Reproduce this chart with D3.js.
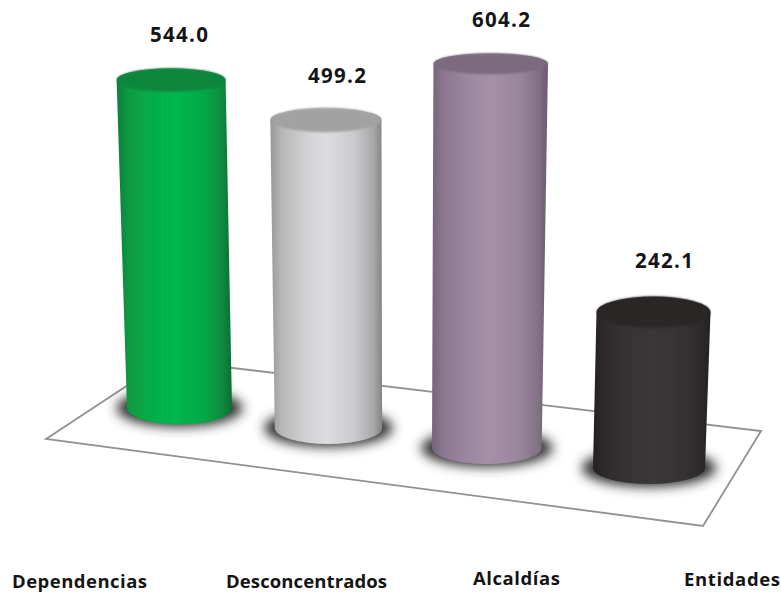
<!DOCTYPE html>
<meta charset="UTF-8">
<head>
<title>Dependencias</title>
<style>
html, body { margin: 0; background: #fff; }
svg { display: block; }
text { font-family: "Open Sans", sans-serif; font-weight: 700; fill: #151515; }
</style>
</head>
<body>
<script src="https://d3js.org/d3.v7.min.js"></script>
<script>

var categories = ["Dependencias", "Desconcentrados", "Alcaldías", "Entidades"];
var values = [544.0, 499.2, 604.2, 242.1];
var valueLabels = ["544.0", "499.2", "604.2", "242.1"];

// left edge, middle, right edge, lid
var sideColors = [
  ["#0c7f3b", "#05b84c", "#0a6c33", "#0b863d"],
  ["#979797", "#dddde0", "#858585", "#a2a2a2"],
  ["#75647a", "#a590a8", "#6a5a6d", "#7c6b7e"],
  ["#242122", "#3a3738", "#242122", "#2a2627"]
];

// hand placed labels, as in the original slide
var valueLabelX = [150, 308, 472, 635];
var valueLabelY = [42, 83, 27, 268];
var catLabelX = [12, 226, 473, 684];
var catLabelY = [588, 588, 585, 586];
var catLabelW = [135, 161, 87, 96];

var floorCorners = [[46, 439], [166, 360], [761, 431], [703, 526]];

var width = 781, height = 593;
var index = d3.range(categories.length);

// the floor is drawn in perspective, so bars further right sit lower and closer
var baseX = d3.scalePow().exponent(1.045).domain([0, 3]).range([179.5, 649]);
var baseY = d3.scaleLinear().domain([0, 3]).range([408, 468]);
var baseRx = d3.scaleLinear().domain([0, 3]).range([52.5, 56]);
var pxPerUnit = d3.scaleLinear().domain([0, 1, 2, 3]).range([0.603, 0.617, 0.636, 0.644]);
var topRy = d3.scaleLinear().domain([156, 384]).range([15.5, 10.5]);
var vanishX = 400, lean = 1.16e-4;

var bars = index.map(function(i) {
  var h = values[i] * pxPerUnit(i),
      grow = 1 + lean * h,
      bx = baseX(i), by = baseY(i);
  return {
    i: i, bx: bx, by: by, brx: baseRx(i), bry: 16,
    tx: vanishX + (bx - vanishX) * grow,
    ty: by - h,
    trx: baseRx(i) * grow,
    try_: topRy(h)
  };
});

var svg = d3.select("body").append("svg")
    .attr("width", width)
    .attr("height", height);

var defs = svg.append("defs");

defs.append("filter").attr("id", "shadowBlur")
    .attr("x", "-30%").attr("y", "-80%").attr("width", "160%").attr("height", "260%")
  .append("feGaussianBlur").attr("stdDeviation", 6);

defs.append("filter").attr("id", "soft")
  .append("feGaussianBlur").attr("stdDeviation", 0.6);

defs.append("filter").attr("id", "lidSoft")
    .attr("x", "-10%").attr("y", "-30%").attr("width", "120%").attr("height", "160%")
  .append("feGaussianBlur").attr("stdDeviation", 1.2);

index.forEach(function(i) {
  var g = defs.append("linearGradient").attr("id", "side" + i);
  [[0, 0], [0.1, 0.45], [0.3, 0.8], [0.5, 1], [0.75, 0.8], [0.92, 0.4], [1, 0]].forEach(function(s) {
    var edge = s[0] < 0.5 ? sideColors[i][0] : sideColors[i][2];
    g.append("stop").attr("offset", s[0])
        .attr("stop-color", d3.interpolateRgb(edge, sideColors[i][1])(s[1]));
  });
});

svg.append("path")
    .attr("d", d3.line().curve(d3.curveLinearClosed)(floorCorners))
    .attr("fill", "#fff")
    .attr("stroke", "#919191")
    .attr("stroke-width", 1.8);

svg.selectAll("ellipse.shadow")
    .data(bars)
  .enter().append("ellipse")
    .attr("class", "shadow")
    .attr("cx", function(d) { return d.bx; })
    .attr("cy", function(d) { return d.by; })
    .attr("rx", function(d) { return d.brx * 1.2; })
    .attr("ry", 19)
    .attr("fill", "#333")
    .attr("filter", "url(#shadowBlur)");

var bar = svg.selectAll("g.bar")
    .data(bars)
  .enter().append("g")
    .attr("class", "bar")
    .attr("filter", "url(#soft)");

bar.append("path")
    .attr("fill", function(d) { return "url(#side" + d.i + ")"; })
    .attr("d", function(d) {
      return `M ${d.tx - d.trx} ${d.ty}
              L ${d.bx - d.brx} ${d.by}
              A ${d.brx} ${d.bry} 0 0 0 ${d.bx + d.brx} ${d.by}
              L ${d.tx + d.trx} ${d.ty}
              A ${d.trx} ${d.try_} 0 0 0 ${d.tx - d.trx} ${d.ty} Z`;
    });

bar.append("ellipse")
    .attr("cx", function(d) { return d.tx; })
    .attr("cy", function(d) { return d.ty; })
    .attr("rx", function(d) { return d.trx - 0.5; })
    .attr("ry", function(d) { return d.try_; })
    .attr("fill", function(d) { return sideColors[d.i][3]; })
    .attr("filter", "url(#lidSoft)");

svg.selectAll("text.value")
    .data(index)
  .enter().append("text")
    .attr("class", "value")
    .attr("x", function(i) { return valueLabelX[i]; })
    .attr("y", function(i) { return valueLabelY[i]; })
    .attr("textLength", 58)
    .attr("lengthAdjust", "spacing")
    .style("font-size", "20.5px")
    .text(function(i) { return valueLabels[i]; });

svg.selectAll("text.cat")
    .data(index)
  .enter().append("text")
    .attr("class", "cat")
    .attr("x", function(i) { return catLabelX[i]; })
    .attr("y", function(i) { return catLabelY[i]; })
    .attr("textLength", function(i) { return catLabelW[i]; })
    .attr("lengthAdjust", "spacing")
    .style("font-size", "18.5px")
    .text(function(i) { return categories[i]; });

</script>
</body>
</html>
